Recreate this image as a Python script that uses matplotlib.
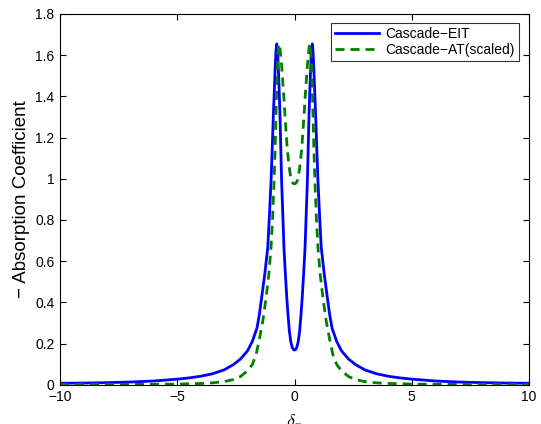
import matplotlib
matplotlib.use("Agg")
import matplotlib.pyplot as plt
from matplotlib.ticker import FixedLocator

plt.rcParams['font.family'] = ['Liberation Sans', 'DejaVu Sans']
plt.rcParams['mathtext.fontset'] = 'cm'
plt.rcParams['lines.scale_dashes'] = False

# ---- data ----
eit_x = [-10, -9, -8, -7, -6, -5, -4.5, -4, -3.5, -3, -2.6, -2.3, -2.0, -1.8, -1.6, -1.5, -1.4,
         -1.27, -1.14, -1.07, -1.0, -0.95, -0.9, -0.86, -0.82, -0.79, -0.76, -0.73, -0.7, -0.66,
         -0.62, -0.58, -0.55, -0.5, -0.45, -0.4, -0.33, -0.27, -0.22, -0.16, -0.1, -0.05, 0,
         0.05, 0.1, 0.16, 0.22, 0.27, 0.33, 0.4, 0.45, 0.5, 0.55, 0.58, 0.62, 0.66, 0.7, 0.73,
         0.76, 0.79, 0.82, 0.86, 0.9, 0.95, 1.0, 1.07, 1.14, 1.27, 1.4, 1.5, 1.6, 1.8, 2.0, 2.3,
         2.6, 3, 3.5, 4, 4.5, 5, 6, 7, 8, 9, 10]
eit_y = [0.007, 0.008, 0.010, 0.013, 0.018, 0.027, 0.033, 0.041, 0.053, 0.072, 0.098, 0.125,
         0.165, 0.21, 0.275, 0.34, 0.424, 0.535, 0.667, 0.82, 0.99, 1.15, 1.314, 1.43, 1.55,
         1.62, 1.655, 1.64, 1.57, 1.45, 1.314, 1.13, 0.99, 0.83, 0.667, 0.56, 0.424, 0.33,
         0.262, 0.21, 0.182, 0.171, 0.168,
         0.171, 0.182, 0.21, 0.262, 0.33, 0.424, 0.56, 0.667, 0.83, 0.99, 1.13, 1.314, 1.45,
         1.57, 1.64, 1.655, 1.62, 1.55, 1.43, 1.314, 1.15, 0.99, 0.82, 0.667, 0.535, 0.424,
         0.34, 0.275, 0.21, 0.165, 0.125, 0.098, 0.072, 0.053, 0.041, 0.033, 0.027, 0.018,
         0.013, 0.010, 0.008, 0.007]

at_x = [-10, -8, -6, -5, -4, -3.5, -3, -2.6, -2.3, -2.0, -1.8, -1.65, -1.5, -1.35, -1.21, -1.1,
        -1.0, -0.93, -0.87, -0.82, -0.79, -0.75, -0.71, -0.68, -0.66, -0.63, -0.6, -0.55, -0.5,
        -0.45, -0.41, -0.36, -0.31, -0.25, -0.18, -0.12, -0.06, 0,
        0.06, 0.12, 0.18, 0.25, 0.31, 0.36, 0.41, 0.45, 0.5, 0.55, 0.6, 0.63, 0.66, 0.68, 0.71,
        0.75, 0.79, 0.82, 0.87, 0.93, 1.0, 1.1, 1.21, 1.35, 1.5, 1.65, 1.8, 2.0, 2.3, 2.6, 3,
        3.5, 4, 5, 6, 8, 10]
at_y = [0.001, 0.0015, 0.002, 0.003, 0.006, 0.009, 0.015, 0.025, 0.040, 0.068, 0.098, 0.14,
        0.22, 0.31, 0.424, 0.53, 0.667, 0.82, 0.99, 1.17, 1.314, 1.47, 1.59, 1.645, 1.655,
        1.645, 1.61, 1.55, 1.47, 1.39, 1.314, 1.23, 1.15, 1.08, 1.02, 0.99, 0.978, 0.975,
        0.978, 0.99, 1.02, 1.08, 1.15, 1.23, 1.314, 1.39, 1.47, 1.55, 1.61, 1.645, 1.655,
        1.645, 1.59, 1.47, 1.314, 1.17, 0.99, 0.82, 0.667, 0.53, 0.424, 0.31, 0.22, 0.14,
        0.098, 0.068, 0.040, 0.025, 0.015, 0.009, 0.006, 0.003, 0.002, 0.0015, 0.001]

labels = ['Cascade\u2212EIT', 'Cascade\u2212AT(scaled)']
x_ticks = [-10, -5, 0, 5, 10]
x_ticklabels = ['\u221210', '\u22125', '0', '5', '10']
y_ticks = [0, 0.2, 0.4, 0.6, 0.8, 1.0, 1.2, 1.4, 1.6, 1.8]
y_ticklabels = ['0', '0.2', '0.4', '0.6', '0.8', '1', '1.2', '1.4', '1.6', '1.8']

# ---- figure ----
fig = plt.figure(figsize=(5.41, 4.24), dpi=100)
ax = fig.add_axes([60/541, 1 - 384.7/424, (529 - 60)/541, (384.7 - 14)/424])

ax.plot(eit_x, eit_y, color=(0, 0, 1), lw=2.0, label=labels[0], solid_joinstyle='round')
ln, = ax.plot(at_x, at_y, color=(0, 0.5, 0), lw=2.0, label=labels[1], linestyle='--')
ln.set_dashes([6.5, 4.3])

ax.set_xlim(-10, 10)
ax.set_ylim(0, 1.8)
ax.xaxis.set_major_locator(FixedLocator(x_ticks))
ax.set_xticklabels(x_ticklabels)
ax.yaxis.set_major_locator(FixedLocator(y_ticks))
ax.set_yticklabels(y_ticklabels)
ax.tick_params(direction='in', length=4, width=0.8, top=True, right=True,
               labelsize=10, pad=4, colors='black')
for s in ax.spines.values():
    s.set_linewidth(0.8)

ax.set_ylabel('\u2212 Absorption Coefficient', fontsize=13.5)
ax.yaxis.set_label_coords(-0.065, 0.5)
ax.set_xlabel(r'$\delta_p$', fontsize=13)
ax.xaxis.set_label_coords(0.5, -0.075)

leg = ax.legend(loc='upper right', bbox_to_anchor=(0.9787, 0.9757), borderaxespad=0,
                fontsize=10, frameon=True, fancybox=False, shadow=False,
                handlelength=3.1, handletextpad=0.5, borderpad=0.3, labelspacing=0.15)
leg.get_frame().set_edgecolor('black')
leg.get_frame().set_linewidth(0.8)

fig.savefig('out.png', dpi=100)
